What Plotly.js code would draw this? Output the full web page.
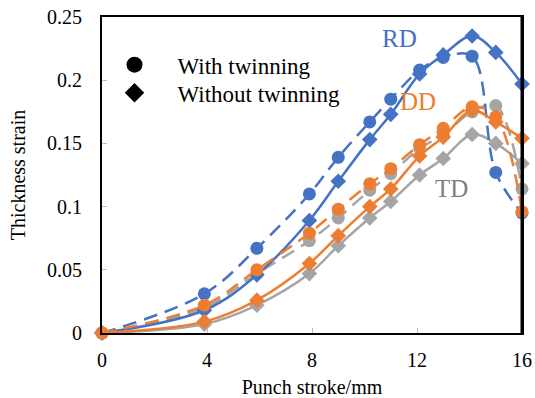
<!DOCTYPE html>
<html>
<head>
<meta charset="utf-8">
<script src="https://cdn.plot.ly/plotly-3.0.1.min.js"></script>
<style>html,body{margin:0;padding:0;background:#fff;}#chart{width:535px;height:398px;}</style>
</head>
<body>
<div id="chart"></div>
<script>
// Punch stroke (mm)
const stroke = [0, 3.9, 5.9, 7.9, 9.0, 10.2, 11.0, 12.1, 13.0, 14.1, 15.0, 16.0];
// Thickness strain
const rdTwin   = [0, 0.031, 0.067, 0.110, 0.139, 0.167, 0.185, 0.208, 0.218, 0.219, 0.127, 0.095];
const rdNoTwin = [0, 0.018, 0.046, 0.089, 0.120, 0.153, 0.173, 0.205, 0.220, 0.235, 0.222, 0.197];
const ddTwin   = [0, 0.022, 0.050, 0.079, 0.098, 0.118, 0.130, 0.149, 0.162, 0.179, 0.171, 0.096];
const ddNoTwin = [0, 0.009, 0.026, 0.055, 0.077, 0.100, 0.114, 0.140, 0.155, 0.176, 0.167, 0.154];
const tdTwin   = [0, 0.020, 0.047, 0.073, 0.091, 0.113, 0.126, 0.146, 0.157, 0.175, 0.180, 0.114];
const tdNoTwin = [0, 0.007, 0.022, 0.047, 0.069, 0.091, 0.104, 0.125, 0.138, 0.157, 0.150, 0.134];
const legendNames = ['With twinning', 'Without twinning'];
const dirLabels = ['RD', 'DD', 'TD'];

const BLUE = '#4472C4', ORANGE = '#ED7D31', GREY = '#A5A5A5';

function series(y, color, twin) {
  return {
    x: stroke, y: y, type: 'scatter', mode: 'lines+markers',
    line: {color: color, width: 2.5, shape: 'spline', smoothing: 1, dash: twin ? '14px,8px' : 'solid'},
    marker: {color: color, symbol: twin ? 'circle' : 'diamond', size: twin ? 13 : 12},
    showlegend: false, cliponaxis: false, hoverinfo: 'skip'
  };
}

const traces = [
  series(tdTwin, GREY, true),
  series(tdNoTwin, GREY, false),
  series(rdTwin, BLUE, true),
  series(rdNoTwin, BLUE, false),
  series(ddNoTwin, ORANGE, false),
  series(ddTwin, ORANGE, true),
  {x: [null], y: [null], type: 'scatter', mode: 'markers', name: legendNames[0],
   marker: {color: '#000', symbol: 'circle', size: 16}, legend: 'legend'},
  {x: [null], y: [null], type: 'scatter', mode: 'markers', name: legendNames[1],
   marker: {color: '#000', symbol: 'diamond', size: 15}, legend: 'legend2'}
];

const serif = '"Liberation Serif", "Times New Roman", Times, serif';
const legendStyle = {xanchor: 'left', yanchor: 'top', bgcolor: 'rgba(0,0,0,0)',
  font: {family: serif, size: 23, color: '#000'}, itemwidth: 76};
const layout = {
  width: 535, height: 398,
  margin: {l: 102, r: 13, t: 17, b: 65},
  paper_bgcolor: '#fff', plot_bgcolor: '#fff',
  font: {family: serif, size: 20, color: '#000'},
  xaxis: {
    range: [0, 16], dtick: 4, tick0: 0, showgrid: false, zeroline: false,
    showline: true, linecolor: '#000', linewidth: 2, mirror: true,
    ticks: 'inside', ticklen: 5, tickcolor: '#BFBFBF', tickwidth: 1,
    ticklabelstandoff: 8,
    tickfont: {family: serif, size: 20, color: '#000'},
    title: {text: 'Punch stroke/mm', font: {family: serif, size: 20, color: '#000'}, standoff: 16}
  },
  yaxis: {
    range: [0, 0.25], dtick: 0.05, tick0: 0, showgrid: false, zeroline: false,
    showline: true, linecolor: '#000', linewidth: 2, mirror: true,
    ticks: 'inside', ticklen: 5, tickcolor: '#BFBFBF', tickwidth: 1,
    ticklabelstandoff: 14,
    tickfont: {family: serif, size: 20, color: '#000'},
    title: {text: 'Thickness strain', font: {family: serif, size: 20, color: '#000'}, standoff: 16}
  },
  showlegend: true,
  legend: Object.assign({x: -0.025, y: 0.917}, legendStyle),
  legend2: Object.assign({x: -0.025, y: 0.828}, legendStyle),
  annotations: [
    {x: 11.34, y: 0.233, xref: 'x', yref: 'y', text: dirLabels[0], showarrow: false,
     font: {family: serif, size: 25, color: '#4472C4'}},
    {x: 12.03, y: 0.1834, xref: 'x', yref: 'y', text: dirLabels[1], showarrow: false,
     font: {family: serif, size: 25, color: '#ED7D31'}},
    {x: 13.32, y: 0.114, xref: 'x', yref: 'y', text: dirLabels[2], showarrow: false,
     font: {family: serif, size: 25, color: '#7F7F7F'}}
  ],
  shapes: [
    {type: 'line', xref: 'paper', yref: 'paper', x0: 1, x1: 1, y0: 0, y1: 1, line: {color: '#000', width: 3}}
  ]
};

Plotly.newPlot('chart', traces, layout, {displayModeBar: false, staticPlot: true});
</script>
</body>
</html>
